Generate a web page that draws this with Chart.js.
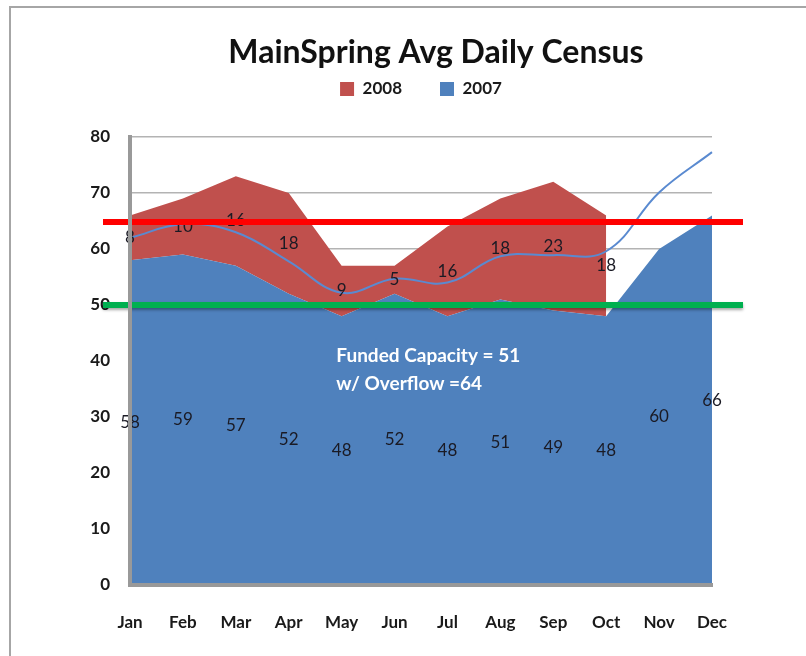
<!DOCTYPE html>
<html>
<head>
<meta charset="utf-8">
<title>MainSpring Avg Daily Census</title>
<script src="https://cdn.jsdelivr.net/npm/chart.js@4.4.1/dist/chart.umd.min.js"></script>
<style>
  html, body { margin: 0; padding: 0; background: #fff; }
  canvas { display: block; }
</style>
</head>
<body>
<canvas id="census" width="806" height="656"></canvas>
<script>
// data
const months = ["Jan", "Feb", "Mar", "Apr", "May", "Jun", "Jul", "Aug", "Sep", "Oct", "Nov", "Dec"];
const census2007 = [58, 59, 57, 52, 48, 52, 48, 51, 49, 48, 60, 66];
const census2008 = [8, 10, 16, 18, 9, 5, 16, 18, 23, 18, null, null];
const trendLine = [62, 64.4, 63, 57.8, 52.2, 54.7, 54, 58.7, 58.9, 59.6, 70.1, 77.3];
const yMin = 0;
const yMax = 80;
const yStep = 10;
const overflowLevel = 64.8;
const fundedLevel = 50;
const noteLines = ["Funded Capacity = 51", "w/ Overflow =64"];

const BLUE = "#4f81bd";
const RED = "#c0504d";

Chart.defaults.font.family = "Lato, 'Open Sans', sans-serif";
Chart.defaults.color = "#1a1a1a";

// frame lines, value labels, capacity lines and the note
const extrasPlugin = {
    id: "extras",
    beforeDraw(chart) {
        const ctx = chart.ctx;
        ctx.save();
        ctx.strokeStyle = "#a6a6a6";
        ctx.lineWidth = 2;
        ctx.beginPath();
        ctx.moveTo(10, chart.height);
        ctx.lineTo(10, 7);
        ctx.lineTo(chart.width, 7);
        ctx.stroke();
        ctx.restore();
    },
    afterDatasetsDraw(chart) {
        const ctx = chart.ctx;
        const xs = chart.scales.x;
        const ys = chart.scales.y;
        const area = chart.chartArea;

        // value labels in the middle of each band
        ctx.save();
        ctx.font = "17px Lato, sans-serif";
        ctx.fillStyle = "#1a1a24";
        ctx.textAlign = "center";
        ctx.textBaseline = "middle";
        census2007.forEach((v, i) => {
            ctx.fillText(String(v), xs.getPixelForValue(i), ys.getPixelForValue(v / 2));
        });
        census2008.forEach((v, i) => {
            if (v == null) return;
            ctx.fillText(String(v), xs.getPixelForValue(i), ys.getPixelForValue(census2007[i] + v / 2));
        });
        ctx.restore();

        // funded capacity (green) and overflow (red) lines
        const drawLevel = (value, color, shadow) => {
            const y = ys.getPixelForValue(value);
            ctx.save();
            if (shadow) {
                ctx.shadowColor = "rgba(0,0,0,0.35)";
                ctx.shadowOffsetY = 2;
                ctx.shadowBlur = 3;
            }
            ctx.strokeStyle = color;
            ctx.lineWidth = 6;
            ctx.beginPath();
            ctx.moveTo(area.left - 27, y);
            ctx.lineTo(area.right + 31, y);
            ctx.stroke();
            ctx.restore();
        };
        drawLevel(fundedLevel, "#00b050", true);
        drawLevel(overflowLevel, "#ff0000", false);

        // note text
        ctx.save();
        ctx.font = "bold 19px Lato, sans-serif";
        ctx.fillStyle = "#ffffff";
        ctx.textAlign = "left";
        ctx.textBaseline = "middle";
        const nx = xs.getPixelForValue(3.9);
        noteLines.forEach((t, k) => {
            ctx.fillText(t, nx, ys.getPixelForValue(41) + k * 28);
        });
        ctx.restore();
    }
};

new Chart(document.getElementById("census"), {
    type: "line",
    data: {
        labels: months,
        datasets: [
            {
                label: "2007",
                data: census2007,
                backgroundColor: BLUE,
                borderColor: BLUE,
                borderWidth: 0,
                pointRadius: 0,
                fill: "origin",
                tension: 0
            },
            {
                label: "2008",
                data: census2008,
                backgroundColor: RED,
                borderColor: RED,
                borderWidth: 0,
                pointRadius: 0,
                fill: "-1",
                tension: 0
            },
            {
                label: "trend",
                data: trendLine,
                stack: "trend",
                order: -1,
                borderColor: "#5a8ad0",
                borderWidth: 2,
                pointRadius: 0,
                fill: false,
                tension: 0.4
            }
        ]
    },
    options: {
        responsive: false,
        animation: false,
        layout: { padding: { left: 66, right: 0, top: 10, bottom: 0 } },
        plugins: {
            title: {
                display: true,
                text: "MainSpring Avg Daily Census",
                color: "#111",
                font: { size: 32, weight: "bold", lineHeight: 1.0 },
                padding: { top: 27, bottom: -26.5 }
            },
            legend: {
                display: true,
                fullSize: false,
                reverse: true,
                labels: {
                    boxWidth: 14,
                    boxHeight: 14,
                    padding: 38,
                    color: "#1a1a1a",
                    font: { size: 17, weight: "bold" },
                    filter: item => item.text !== "trend"
                }
            },
            tooltip: { enabled: false }
        },
        scales: {
            x: {
                offset: false,
                grid: { display: false, drawTicks: false },
                border: { display: true, color: "#999", width: 4, z: 1 },
                ticks: { padding: 27, font: { size: 17, weight: "bold" }, color: "#1a1a1a", maxRotation: 0 },
                afterFit: s => { s.height = 71; }
            },
            x2: {
                type: "category",
                position: "top",
                grid: { display: false },
                border: { display: false },
                ticks: { display: false },
                afterFit: s => { s.height = 29.5; }
            },
            y: {
                stacked: true,
                min: yMin,
                max: yMax,
                ticks: { stepSize: yStep, padding: 20, font: { size: 17, weight: "bold" }, color: "#1a1a1a" },
                grid: { color: "#b3b3b3", lineWidth: 1.5, drawTicks: false },
                border: { display: true, color: "#999", width: 4, z: 1 },
                afterFit: s => { s.width = 64; }
            },
            y2: {
                position: "right",
                grid: { display: false },
                border: { display: false },
                ticks: { display: false },
                afterFit: s => { s.width = 94; }
            }
        }
    },
    plugins: [extrasPlugin]
});
</script>
</body>
</html>
